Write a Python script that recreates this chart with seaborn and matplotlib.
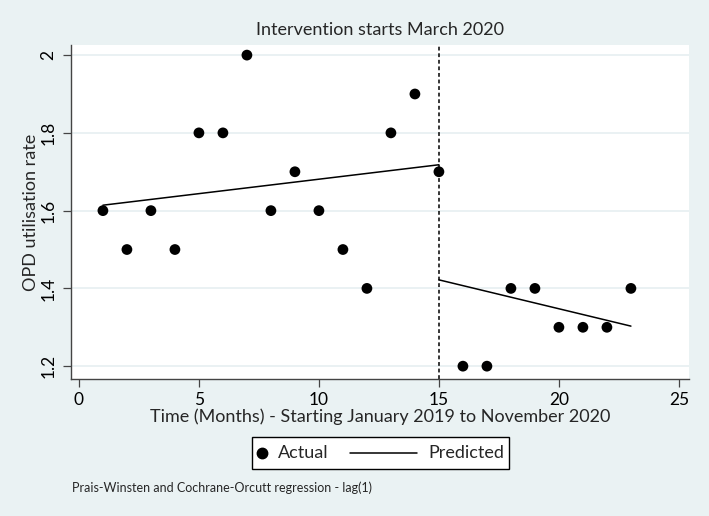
import numpy as np
import pandas as pd
import matplotlib
matplotlib.use("Agg")
import matplotlib.pyplot as plt
import seaborn as sns
from matplotlib.lines import Line2D
from matplotlib.patches import Rectangle

months = list(range(1, 24))
actual = [1.6, 1.5, 1.6, 1.5, 1.8, 1.8, 2.0, 1.6, 1.7, 1.6, 1.5, 1.4, 1.8, 1.9, 1.7,
          1.2, 1.2, 1.4, 1.4, 1.3, 1.3, 1.3, 1.4]
pre_x = [1, 15]
pre_pred = [1.614, 1.718]
post_x = [15, 23]
post_pred = [1.422, 1.303]
intervention_month = 15
x_ticks = [0, 5, 10, 15, 20, 25]
y_ticks = [1.2, 1.4, 1.6, 1.8, 2.0]
y_ticklabels = ["1.2", "1.4", "1.6", "1.8", "2"]

sns.set_theme(style="white")
plt.rcParams['font.family'] = ['Lato', 'DejaVu Sans']

W, H = 709, 516
bg = "#eaf2f3"
fig = plt.figure(figsize=(W/100, H/100), dpi=100, facecolor=bg)
ax = fig.add_axes([71/W, 1 - 379/H, (689-71)/W, (379-45)/H])
ax.set_facecolor("white")

df = pd.DataFrame({"month": months, "actual": actual})
sns.scatterplot(data=df, x="month", y="actual", ax=ax, color="black", s=60,
                edgecolor="none", zorder=3, legend=False)
sns.lineplot(x=pre_x, y=pre_pred, ax=ax, color="black", lw=1.1, zorder=2)
sns.lineplot(x=post_x, y=post_pred, ax=ax, color="black", lw=1.1, zorder=2)
ax.axvline(intervention_month, color="black", lw=1.1, ls=(0, (2.5, 1.8)), zorder=2)

ax.set_xlim(-0.33, 25.42)
ax.set_ylim(1.167, 2.026)
ax.set_xticks(x_ticks)
ax.set_yticks(y_ticks)
ax.set_yticklabels(y_ticklabels, rotation=90, va="center")
for y in y_ticks:
    ax.axhline(y, color="#e6eff1", lw=1.2, zorder=1)

for s in ["top", "right"]:
    ax.spines[s].set_visible(False)
for s in ["left", "bottom"]:
    ax.spines[s].set_color("#444444")
    ax.spines[s].set_linewidth(1.0)
ax.tick_params(axis="both", which="both", length=5.5, width=0.9, color="#444444",
               labelsize=12.5, labelcolor="black", direction="out", pad=4,
               bottom=True, left=True)
ax.tick_params(axis="y", pad=5)

ax.set_xlabel("Time (Months) - Starting January 2019 to November 2020", fontsize=13,
              labelpad=0)
ax.set_ylabel("OPD utilisation rate", fontsize=13, labelpad=1)
ax.set_title("Intervention starts March 2020", fontsize=13, pad=7)

# manual legend (figure pixel coordinates)
def fx(px):
    return px / W
def fy(py):
    return 1 - py / H

fig.add_artist(Rectangle((fx(252), fy(469)), (509-252)/W, (469-437)/H,
                         transform=fig.transFigure, facecolor="white",
                         edgecolor="black", lw=1.0))
fig.add_artist(Line2D([fx(262)], [fy(453)], marker="o", color="black", ls="none",
                      markersize=7.5, transform=fig.transFigure))
fig.text(fx(278), fy(453), "Actual", fontsize=13, va="center", ha="left")
fig.add_artist(Line2D([fx(350), fx(417)], [fy(453), fy(453)], color="black", lw=1.1,
                      transform=fig.transFigure))
fig.text(fx(428), fy(453), "Predicted", fontsize=13, va="center", ha="left")

fig.text(fx(72), fy(488), "Prais-Winsten and Cochrane-Orcutt regression - lag(1)",
         fontsize=9, va="center", ha="left")

fig.savefig("out.png", dpi=100, facecolor=bg)
